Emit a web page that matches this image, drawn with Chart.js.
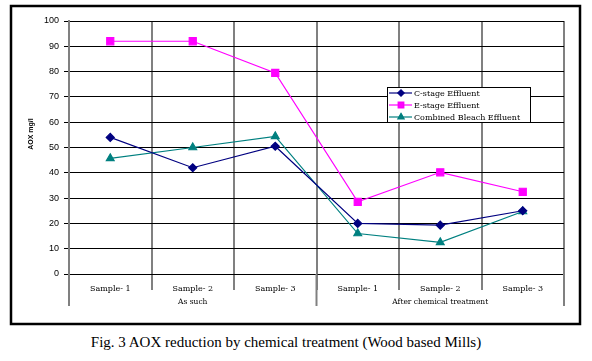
<!DOCTYPE html>
<html>
<head>
<meta charset="utf-8">
<script src="https://cdn.jsdelivr.net/npm/chart.js@4.4.1/dist/chart.umd.min.js"></script>
<style>
  body { margin: 0; background: #fff; width: 592px; height: 361px; overflow: hidden; position: relative; }
  #aoxChart { position: absolute; left: 0; top: 0; }
  #caption { position: absolute; left: 0; top: 334px; width: 572px; text-align: center;
    font: 15px "Liberation Serif", "DejaVu Serif", serif; color: #000; }
</style>
</head>
<body>
<canvas id="aoxChart" width="592" height="330"></canvas>
<div id="caption">Fig. 3 AOX reduction by chemical treatment (Wood based Mills)</div>
<script>
const categories = ["Sample- 1", "Sample- 2", "Sample- 3", "Sample- 1", "Sample- 2", "Sample- 3"];
const groups = ["As such", "After chemical treatment"];
const cStage = [54, 42, 50.5, 20, 19.3, 25];
const eStage = [92, 92, 79.5, 28.5, 40.2, 32.5];
const combined = [45.7, 50, 54.4, 16, 12.5, 24.7];
const yMin = 0, yMax = 100, yStep = 10;

const serif = '"DejaVu Serif", "Liberation Serif", serif';

// frame, axis title, group labels and the legend box
const decor = {
  id: "decor",
  beforeDraw(chart) {
    const ctx = chart.ctx;
    ctx.save();
    ctx.fillStyle = "#fff";
    ctx.fillRect(0, 0, chart.width, chart.height);
    ctx.strokeStyle = "#000";
    ctx.lineWidth = 2.5;
    ctx.strokeRect(11, 6, 569, 318);
    ctx.restore();
  },
  afterDraw(chart) {
    const ctx = chart.ctx;
    const x = chart.scales.x;
    const area = chart.chartArea;
    const half = x.getPixelForValue(2) + (x.getPixelForValue(3) - x.getPixelForValue(2)) / 2;
    ctx.save();

    // long separators between the two groups
    ctx.strokeStyle = "#808080";
    ctx.lineWidth = 2;
    [area.left, half, area.right].forEach(px => {
      ctx.beginPath();
      ctx.moveTo(px, area.bottom);
      ctx.lineTo(px, 306);
      ctx.stroke();
    });

    ctx.fillStyle = "#000";
    ctx.font = "7.5px " + serif;
    ctx.textAlign = "center";
    ctx.textBaseline = "middle";
    ctx.fillText(groups[0], (area.left + half) / 2, 302);
    ctx.fillText(groups[1], (half + area.right) / 2, 302);

    // y title
    ctx.save();
    ctx.translate(31, 134);
    ctx.rotate(-Math.PI / 2);
    ctx.font = "bold 7px 'Liberation Sans', Arial, sans-serif";
    ctx.fillText("AOX mg/l", 0, 0);
    ctx.restore();

    // legend
    const lx = 387, ly = 87, lw = 143, lh = 35;
    ctx.fillStyle = "#fff";
    ctx.fillRect(lx, ly, lw, lh);
    ctx.strokeStyle = "#000";
    ctx.lineWidth = 1;
    ctx.strokeRect(lx + 0.5, ly + 0.5, lw, lh);
    chart.data.datasets.forEach((ds, i) => {
      const ry = 93 + i * 12;
      ctx.strokeStyle = ds.borderColor;
      ctx.lineWidth = 1.2;
      ctx.beginPath();
      ctx.moveTo(389, ry);
      ctx.lineTo(412, ry);
      ctx.stroke();
      Chart.helpers.drawPoint(ctx, {
        pointStyle: ds.pointStyle, radius: ds.pointRadius * 0.8, borderWidth: 1
      }, 401, ry);
      ctx.fillStyle = ds.borderColor;
      ctx.fill();
      ctx.fillStyle = "#000";
      ctx.font = "8px " + serif;
      ctx.textAlign = "left";
      ctx.fillText(ds.label, 414, ry + 0.5);
    });
    ctx.restore();
  }
};

new Chart(document.getElementById("aoxChart"), {
  type: "line",
  data: {
    labels: categories,
    datasets: [
      { label: "C-stage Effluent", data: cStage, borderColor: "#000080", backgroundColor: "#000080",
        pointStyle: "rectRot", pointRadius: 4, borderWidth: 1.2 },
      { label: "E-stage Effluent", data: eStage, borderColor: "#ff00ff", backgroundColor: "#ff00ff",
        pointStyle: "rect", pointRadius: 5, borderWidth: 1.2 },
      { label: "Combined Bleach Effluent", data: combined, borderColor: "#008080", backgroundColor: "#008080",
        pointStyle: "triangle", pointRadius: 4.5, borderWidth: 1.2 }
    ]
  },
  options: {
    responsive: false,
    animation: false,
    layout: { padding: { top: 21, right: 28, left: 27, bottom: 16 } },
    plugins: { legend: { display: false }, tooltip: { enabled: false } },
    scales: {
      x: {
        offset: true,
        grid: { offset: true, color: "#808080", lineWidth: 2, tickLength: 16 },
        border: { color: "#000", width: 1 },
        ticks: { color: "#000", font: { family: serif, size: 8 }, padding: -6, maxRotation: 0 },
        afterFit(scale) { scale.height = 40; }
      },
      y: {
        min: yMin,
        max: yMax,
        ticks: { stepSize: yStep, color: "#000", font: { family: "'Liberation Sans', Arial, sans-serif", size: 9 }, padding: 5 },
        grid: { color: "#000", lineWidth: 1, tickLength: 5 },
        border: { color: "#808080", width: 2 },
        afterFit(scale) { scale.width = 42; }
      }
    }
  },
  plugins: [decor]
});
</script>
</body>
</html>
